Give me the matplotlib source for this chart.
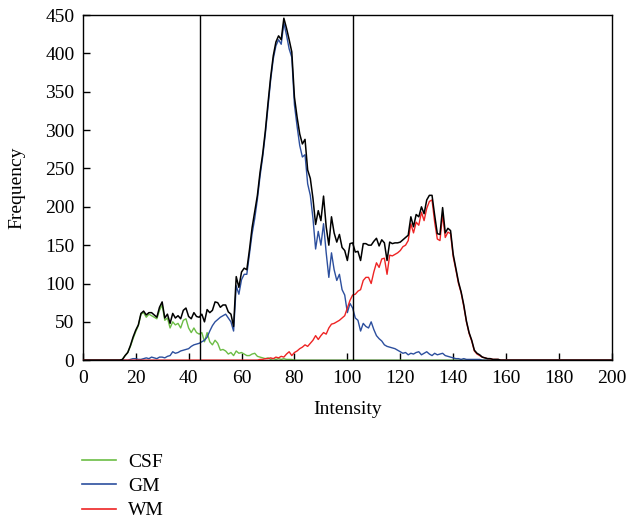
import matplotlib
matplotlib.use("Agg")
import matplotlib.pyplot as plt
from matplotlib.lines import Line2D
import numpy as np

# Intensity axis (0..200)
intensity = list(range(0, 201))

# CSF: values from intensity 15 to 79
csf_start = 15
csf_vals = [1, 6, 10, 18, 28, 37, 45, 60, 62, 56, 60, 58, 56, 54, 65, 72, 52, 55, 42, 50,
            46, 48, 42, 52, 54, 42, 36, 42, 36, 34, 36, 24, 36, 24, 20, 26, 22, 13, 14, 12,
            8, 10, 6, 12, 9, 10, 8, 6, 6, 8, 9, 5, 4, 3, 2, 3, 1, 2, 1, 2,
            1, 2, 1, 1, 1]

# GM: values from intensity 18 to 152
gm_start = 18
gm_vals = [1, 2, 2, 1, 1, 2, 3, 2, 4, 3, 2, 4, 4, 3, 5, 6, 11, 9, 10, 12,
           13, 14, 15, 18, 20, 21, 22, 24, 26, 30, 38, 45, 50, 53, 56, 58, 60, 55, 50, 38,
           97, 86, 105, 112, 112, 138, 165, 185, 210, 240, 265, 295, 330, 365, 393, 410, 418, 412, 440, 424,
           406, 395, 333, 305, 280, 265, 268, 230, 215, 185, 145, 168, 150, 178, 140, 108, 140, 118, 104, 112,
           92, 85, 62, 74, 68, 55, 52, 38, 48, 44, 42, 50, 40, 32, 28, 25, 20, 18, 17, 16,
           15, 13, 11, 9, 10, 7, 9, 8, 10, 11, 7, 9, 11, 8, 6, 9, 7, 8, 9, 6,
           5, 4, 3, 2, 2, 1, 2, 1, 1, 1, 1, 1, 1, 0, 0]

# WM: values from intensity 67 to 158
wm_start = 67
wm_vals = [1, 1, 2, 2, 3, 2, 4, 3, 5, 4, 8, 11, 6, 10, 12, 15, 17, 20, 18, 22,
           26, 32, 27, 32, 36, 34, 42, 47, 48, 50, 52, 55, 58, 68, 78, 85, 86, 90, 92, 104,
           108, 108, 100, 115, 127, 121, 132, 133, 112, 137, 136, 138, 140, 143, 148, 150, 156, 178, 166, 180,
           176, 193, 182, 198, 207, 209, 180, 158, 156, 190, 160, 167, 165, 135, 118, 100, 88, 70, 50, 35,
           25, 12, 8, 6, 4, 3, 2, 2, 1, 1, 1, 0]

def full(start, vals):
    arr = np.zeros(len(intensity))
    arr[start:start + len(vals)] = vals
    return arr

csf = full(csf_start, csf_vals)
gm = full(gm_start, gm_vals)
wm = full(wm_start, wm_vals)
total = csf + gm + wm

thresholds = [44.3, 102.3]

x_ticks = list(range(0, 201, 20))
y_ticks = list(range(0, 451, 50))

plt.rcParams['font.family'] = ['Liberation Serif', 'DejaVu Serif']

fig = plt.figure(figsize=(6.27, 5.22), dpi=100)
ax = fig.add_axes([0.132, 0.310, 0.844, 0.661])

c_csf = '#6cbd45'
c_gm = '#2c4f9e'
c_wm = '#ee2424'

ax.plot(intensity, csf, color=c_csf, lw=1.0, zorder=2)
ax.plot(intensity, gm, color=c_gm, lw=1.0, zorder=2)
ax.plot(intensity, wm, color=c_wm, lw=1.0, zorder=3)
ax.plot(intensity, total, color='black', lw=1.1, zorder=4)

for t in thresholds:
    ax.axvline(t, color='black', lw=1.0, zorder=5)

ax.set_xlim(0, 200)
ax.set_ylim(0, 450)
ax.set_xticks(x_ticks)
ax.set_yticks(y_ticks)
ax.tick_params(direction='in', length=5, width=1, labelsize=14, pad=6,
               top=False, right=False, colors='black')
ax.tick_params(axis='x', pad=7)
for s in ax.spines.values():
    s.set_linewidth(1.0)

ax.set_xlabel('Intensity', fontsize=14, labelpad=10)
ax.set_ylabel('Frequency', fontsize=14, labelpad=14)

handles = [Line2D([0], [0], color=c_csf, lw=1.2),
           Line2D([0], [0], color=c_gm, lw=1.2),
           Line2D([0], [0], color=c_wm, lw=1.2)]
fig.legend(handles, ['CSF', 'GM', 'WM'], loc='upper left',
           bbox_to_anchor=(0.118, 0.147), bbox_transform=fig.transFigure,
           frameon=False, fontsize=14,
           handlelength=1.75, handletextpad=0.65, labelspacing=0.35,
           borderaxespad=0)

fig.savefig('out.png', dpi=100)
